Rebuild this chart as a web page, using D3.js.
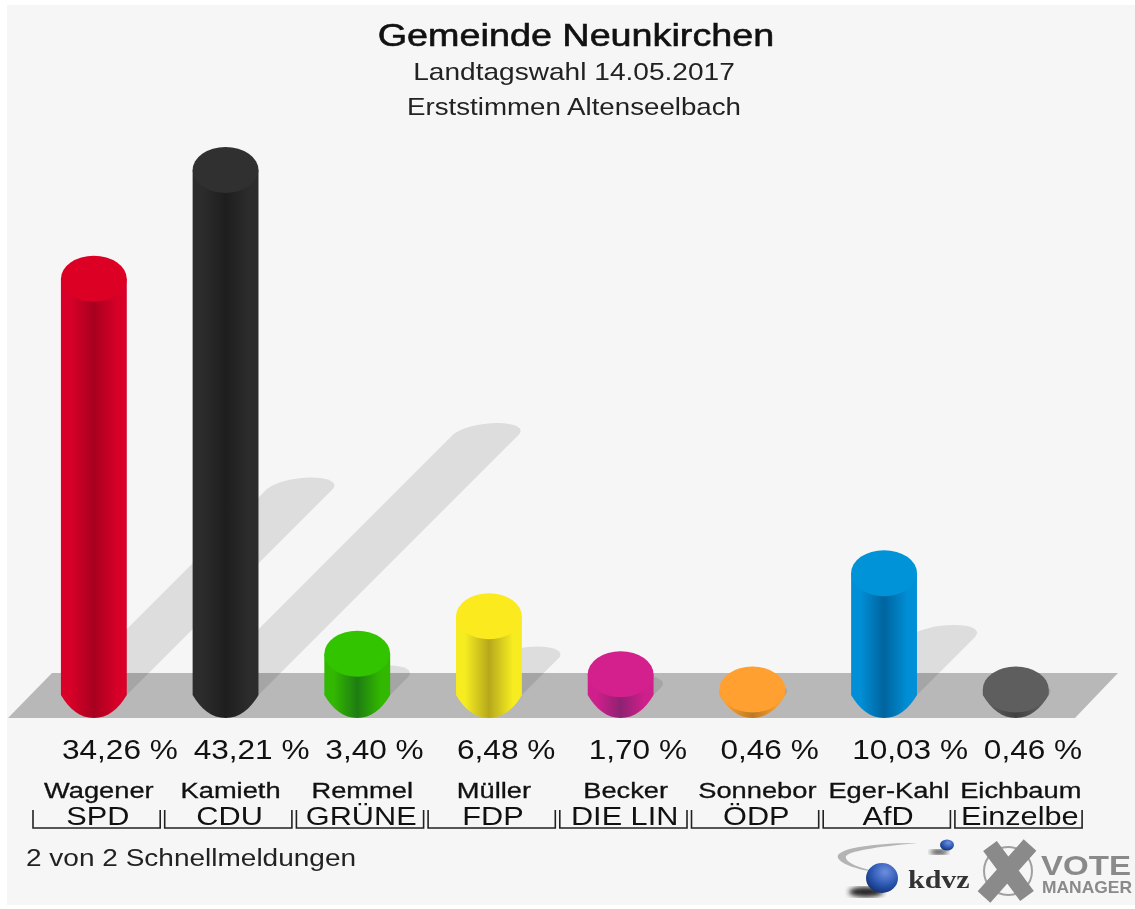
<!DOCTYPE html>
<html>
<head>
<meta charset="utf-8">
<script src="https://cdn.jsdelivr.net/npm/d3@7"></script>
<style>
  html, body { margin: 0; padding: 0; background: #fff; }
  svg { display: block; filter: blur(0.7px); }
  text { font-family: "Liberation Sans", Arial, sans-serif; }
</style>
</head>
<body>
<div id="chart"></div>
<script>
const candidates = ["Wagener", "Kamieth", "Remmel", "Müller", "Becker", "Sonnebor", "Eger-Kahl", "Eichbaum"];
const parties = ["SPD", "CDU", "GRÜNE", "FDP", "DIE LIN", "ÖDP", "AfD", "Einzelbe"];
const percents = [34.26, 43.21, 3.40, 6.48, 1.70, 0.46, 10.03, 0.46];
const topColors = ["#dc0024", "#303030", "#33c400", "#fbea1e", "#d3208c", "#ffa030", "#0093d8", "#5e5e5e"];
const edgeColors = ["#d80028", "#2c2c2c", "#32b800", "#f6ec20", "#cf1f8a", "#f59a2c", "#008fd6", "#5a5a5a"];
const coreColors = ["#a80020", "#1e1e1e", "#1e7d12", "#b5a81c", "#8e2272", "#bb7a22", "#00649f", "#414141"];

const width = 1135;
const height = 909;
const baseY = 695;
const floorFront = 718;
const floorBack = 673;

const svg = d3.select("#chart")
  .append("svg")
  .attr("width", width)
  .attr("height", height)
  .attr("fill", "#111");

const defs = svg.append("defs");

// Panel
svg.append("rect")
  .attr("x", 7).attr("y", 5)
  .attr("width", 1128).attr("height", 900)
  .attr("fill", "#f6f6f6");

const x = d3.scaleBand().domain(parties).range([28, 1081.6]);
const y = d3.scaleLinear().domain([0, 43.21]).range([baseY, 170]);
const shadowLen = d3.scaleLinear().domain([0, 43.21]).range([-3, 260]);
const r = x.bandwidth() / 4;
const ry = 23;
const cx = d => x(d) + x.bandwidth() / 2;

const rows = parties.map((p, i) => ({
  party: p, name: candidates[i], value: percents[i], i
}));

// Stretched text, the original is wider than the font
function label(parent, px, py, str, size, sx, anchor) {
  return parent.append("text")
    .attr("transform", `translate(${px},${py}) scale(${sx},1)`)
    .attr("text-anchor", anchor || "start")
    .attr("font-size", size + "px")
    .text(str);
}

// Floor
svg.append("path")
  .attr("d", `M8,${floorFront}H1075L1118,${floorBack}H52Z`)
  .attr("fill", "#b8b8b8");

// Shadows, sheared cylinders
svg.append("g").selectAll("path")
  .data(rows)
  .join("path")
  .attr("transform", d => `translate(${cx(d.party)},${baseY}) skewX(-45)`)
  .attr("d", d => {
    const h = shadowLen(d.value);
    return `M${-r},0V${-h}A${r},12 0 0 1 ${r},${-h}V0Z`;
  })
  .attr("fill", "#000")
  .attr("fill-opacity", 0.1);

// Gradients for the cylinder sides
rows.forEach(d => {
  const grad = defs.append("linearGradient").attr("id", "side" + d.i);
  [[0, edgeColors], [0.14, edgeColors], [0.5, coreColors], [0.86, edgeColors], [1, edgeColors]].forEach(s => {
    grad.append("stop").attr("offset", s[0]).attr("stop-color", s[1][d.i]);
  });
});

// Cylinders, the foot is a bit more pointed than an ellipse
const bars = svg.append("g").selectAll("g")
  .data(rows)
  .join("g")
  .attr("transform", d => `translate(${cx(d.party)},0)`);

bars.append("path")
  .attr("d", d => `M${-r},${y(d.value)}V${baseY}`
    + `C${-r * 0.75},${baseY + ry * 0.62} ${-r * 0.42},${baseY + ry} 0,${baseY + ry}`
    + `C${r * 0.42},${baseY + ry} ${r * 0.75},${baseY + ry * 0.62} ${r},${baseY}`
    + `V${y(d.value)}Z`)
  .attr("fill", d => `url(#side${d.i})`);

bars.append("ellipse")
  .attr("cy", d => y(d.value))
  .attr("rx", r)
  .attr("ry", ry)
  .attr("fill", d => topColors[d.i]);

// Titles
label(svg, 576, 46, "Gemeinde Neunkirchen", 32, 1.18, "middle")
  .attr("stroke", "#111").attr("stroke-width", 0.6);
label(svg, 574, 80, "Landtagswahl 14.05.2017", 24, 1.17, "middle").attr("fill", "#222");
label(svg, 574, 115, "Erststimmen Altenseelbach", 24, 1.155, "middle").attr("fill", "#222");

// Value, name and party rows
rows.forEach(d => {
  label(svg, cx(d.party) - r + 1, 759, d.value.toFixed(2).replace(".", ",") + " %", 27, 1.17);
  label(svg, cx(d.party) + 5, 798, d.name, 22, 1.24, "middle")
    .attr("stroke", "#111").attr("stroke-width", 0.3);
  label(svg, cx(d.party) + 4, 825, d.party, 26, 1.18, "middle");
});

// Brackets
svg.append("g").selectAll("path")
  .data(rows)
  .join("path")
  .attr("d", d => `M${x(d.party) + 5},810V828H${x(d.party) + x.bandwidth() + 0.5}V810`)
  .attr("fill", "none")
  .attr("stroke", "#222")
  .attr("stroke-width", 1.6);

label(svg, 26, 866, "2 von 2 Schnellmeldungen", 24, 1.167).attr("fill", "#222");

// kdvz logo
const ball = defs.append("radialGradient")
  .attr("id", "ball").attr("cx", 0.6).attr("cy", 0.3).attr("r", 0.75);
ball.append("stop").attr("offset", 0).attr("stop-color", "#6f8fe0");
ball.append("stop").attr("offset", 0.6).attr("stop-color", "#2a56b0");
ball.append("stop").attr("offset", 1).attr("stop-color", "#12306e");
defs.append("filter").attr("id", "soft")
  .append("feGaussianBlur").attr("stdDeviation", 2.5);

const logo = svg.append("g");
logo.append("path")
  .attr("d", "M918,843C885,843 845,846 838,855C835,862 855,870 882,873C858,868 844,862 846,856C852,850 885,846 918,843Z")
  .attr("fill", "#b4b4b4");
logo.append("ellipse").attr("cx", 939).attr("cy", 852).attr("rx", 9).attr("ry", 2.5)
  .attr("fill", "#333").attr("filter", "url(#soft)");
logo.append("ellipse").attr("cx", 947).attr("cy", 845).attr("rx", 7).attr("ry", 5.5)
  .attr("fill", "url(#ball)");
logo.append("ellipse").attr("cx", 866).attr("cy", 892).attr("rx", 17).attr("ry", 5)
  .attr("fill", "#222").attr("filter", "url(#soft)");
logo.append("ellipse").attr("cx", 882).attr("cy", 878).attr("rx", 16).attr("ry", 15)
  .attr("fill", "url(#ball)");
label(logo, 908, 888, "kdvz", 25, 1.2)
  .style("font-family", "'Liberation Serif', serif")
  .attr("font-weight", "bold")
  .attr("fill", "#333");

// Vote Manager logo
const vote = svg.append("g");
vote.append("circle").attr("cx", 1008).attr("cy", 871).attr("r", 24)
  .attr("fill", "none").attr("stroke", "#a0a0a0").attr("stroke-width", 2);
vote.append("path")
  .attr("d", "M990,846L1027,896M1030,845L984,897")
  .attr("stroke", "#8a8a8a").attr("stroke-width", 17);
label(vote, 1041, 875, "VOTE", 28, 1.18).attr("font-weight", "bold").attr("fill", "#8a8a8a");
label(vote, 1042, 893, "MANAGER", 16, 1.09).attr("font-weight", "bold").attr("fill", "#8a8a8a");
</script>
</body>
</html>
